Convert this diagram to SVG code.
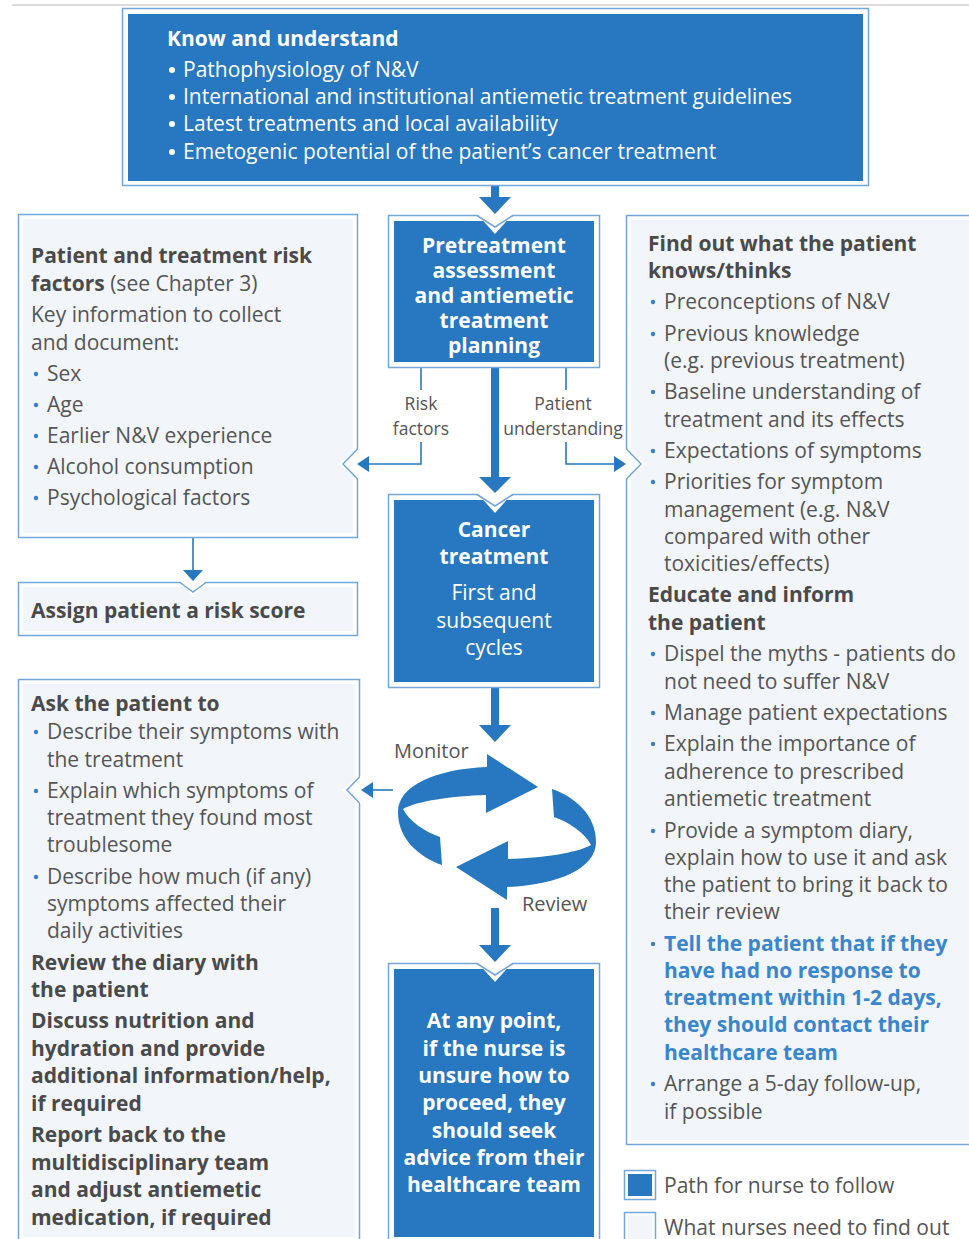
<svg xmlns="http://www.w3.org/2000/svg" width="969" height="1239" viewBox="0 0 969 1239">
  <style>
    .frame { fill: #ffffff; stroke: #74a6da; stroke-width: 1.5; }
    .dark { fill: #2777c1; }
    .light { fill: #f2f5fa; }
    .edge { fill: none; stroke: #74a6da; stroke-width: 1.5; }
    .gap { fill: #ffffff; }
    .line { fill: none; stroke: #2777c1; stroke-width: 1.6; }
    .shaft { fill: none; stroke: #2777c1; stroke-width: 8; }
    .head { fill: #2777c1; }
    text { font-family: "Open Sans", "Noto Sans", sans-serif; }
    .w { fill: #ffffff; font-size: 21px; }
    .wb { fill: #ffffff; font-size: 21px; font-weight: bold; }
    .h { fill: #4a4a4a; font-size: 21px; font-weight: bold; }
    .t { fill: #555555; font-size: 21px; }
    .lbl { fill: #555555; font-size: 17.5px; }
    .hl { fill: #3a86cc; font-size: 21px; font-weight: bold; }
    .dot { fill: #3a80c6; }
    .wdot { fill: #ffffff; }
  </style>

  <!-- page rule -->
  <line x1="12" y1="5" x2="969" y2="5" stroke="#dcdcdc" stroke-width="2"/>

  <!-- connectors -->
  <g id="connectors">
    <!-- know -> pretreatment -->
    <line class="shaft" x1="495" y1="186" x2="495" y2="198"/>
    <!-- pretreatment -> cancer treatment -->
    <line class="shaft" x1="495" y1="368" x2="495" y2="478"/>
    <!-- cancer treatment -> monitor -->
    <line class="shaft" x1="495" y1="688" x2="495" y2="726"/>
    <!-- review -> advice -->
    <line class="shaft" x1="495" y1="908" x2="495" y2="946"/>
    <!-- risk factors branch -->
    <polyline class="line" points="421,368 421,390"/>
    <polyline class="line" points="421,442 421,464 368,464"/>
    <!-- patient understanding branch -->
    <polyline class="line" points="566,368 566,390"/>
    <polyline class="line" points="566,442 566,464 615,464"/>
    <!-- risk factors -> risk score -->
    <line class="line" x1="193" y1="538" x2="193" y2="571"/>
    <!-- cycle -> ask the patient -->
    <line class="line" x1="393" y1="790" x2="371" y2="790"/>
  </g>

  <!-- top: knowledge -->
  <g id="know">
    <rect class="frame" x="122.5" y="8.5" width="746" height="177"/>
    <rect class="dark" x="128" y="14" width="735" height="167"/>
    <text class="wb" x="167" y="46">Know and understand</text>
    <circle class="wdot" cx="172" cy="70" r="3"/>
    <circle class="wdot" cx="172" cy="97" r="3"/>
    <circle class="wdot" cx="172" cy="124" r="3"/>
    <circle class="wdot" cx="172" cy="152" r="3"/>
    <text class="w" x="183" y="77">Pathophysiology of N&amp;V</text>
    <text class="w" x="183" y="104">International and institutional antiemetic treatment guidelines</text>
    <text class="w" x="183" y="131">Latest treatments and local availability</text>
    <text class="w" x="183" y="159">Emetogenic potential of the patient’s cancer treatment</text>
  </g>

  <!-- pretreatment assessment -->
  <g id="pretreatment">
    <rect class="frame" x="388.5" y="215.5" width="211" height="152"/>
    <rect class="dark" x="394" y="221" width="200" height="141"/>
    <polygon class="gap" points="477,214 513,214 495,234"/>
    <polyline class="edge" points="477,215.5 495,227 513,215.5"/>
    <polygon class="head" points="479,197 511,197 495,214"/>
    <g text-anchor="middle">
      <text class="wb" x="494" y="253">Pretreatment</text>
      <text class="wb" x="494" y="278">assessment</text>
      <text class="wb" x="494" y="303">and antiemetic</text>
      <text class="wb" x="494" y="328">treatment</text>
      <text class="wb" x="494" y="353">planning</text>
    </g>
  </g>

  <!-- branch labels -->
  <g id="branch-labels" text-anchor="middle">
    <text class="lbl" x="421" y="410">Risk</text>
    <text class="lbl" x="421" y="435">factors</text>
    <text class="lbl" x="563" y="410">Patient</text>
    <text class="lbl" x="563" y="435">understanding</text>
  </g>

  <!-- risk factors -->
  <g id="risk-factors">
    <rect class="frame" x="18.5" y="214.5" width="339" height="323"/>
    <rect class="light" x="23" y="219" width="330" height="314"/>
    <polygon class="gap" points="359,448 359,480 338,464"/>
    <polyline class="edge" points="357.5,449 343,464 357.5,479"/>
    <polygon class="head" points="369,456 369,472 357,464"/>
    <text x="31" y="263"><tspan class="h">Patient and treatment risk</tspan></text>
    <text x="31" y="291"><tspan class="h">factors</tspan><tspan class="t"> (see Chapter 3)</tspan></text>
    <text class="t" x="31" y="322">Key information to collect</text>
    <text class="t" x="31" y="350">and document:</text>
    <circle class="dot" cx="36" cy="374" r="2.2"/>
    <circle class="dot" cx="36" cy="405" r="2.2"/>
    <circle class="dot" cx="36" cy="436" r="2.2"/>
    <circle class="dot" cx="36" cy="467" r="2.2"/>
    <circle class="dot" cx="36" cy="498" r="2.2"/>
    <text class="t" x="47" y="381">Sex</text>
    <text class="t" x="47" y="412">Age</text>
    <text class="t" x="47" y="443">Earlier N&amp;V experience</text>
    <text class="t" x="47" y="474">Alcohol consumption</text>
    <text class="t" x="47" y="505">Psychological factors</text>
  </g>

  <!-- risk score -->
  <g id="risk-score">
    <rect class="frame" x="18.5" y="582.5" width="339" height="53"/>
    <rect class="light" x="23" y="587" width="330" height="44"/>
    <polygon class="gap" points="180,581 206,581 193,597"/>
    <polyline class="edge" points="180,582.5 193,592 206,582.5"/>
    <polygon class="head" points="183,570 203,570 193,581"/>
    <text class="h" x="31" y="618">Assign patient a risk score</text>
  </g>

  <!-- ask the patient -->
  <g id="ask-patient">
    <rect class="frame" x="18.5" y="679.5" width="341" height="580"/>
    <rect class="light" x="23" y="684" width="332" height="553"/>
    <polygon class="gap" points="361,776 361,804 341,790"/>
    <polyline class="edge" points="359.5,777 347,790 359.5,803"/>
    <polygon class="head" points="373,782 373,798 361,790"/>
    <text class="h" x="31" y="711">Ask the patient to</text>
    <circle class="dot" cx="36" cy="732" r="2.2"/>
    <circle class="dot" cx="36" cy="791" r="2.2"/>
    <circle class="dot" cx="36" cy="877" r="2.2"/>
    <text class="t" x="47" y="739">Describe their symptoms with</text>
    <text class="t" x="47" y="767">the treatment</text>
    <text class="t" x="47" y="798">Explain which symptoms of</text>
    <text class="t" x="47" y="825">treatment they found most</text>
    <text class="t" x="47" y="852">troublesome</text>
    <text class="t" x="47" y="884">Describe how much (if any)</text>
    <text class="t" x="47" y="911">symptoms affected their</text>
    <text class="t" x="47" y="938">daily activities</text>
    <text class="h" x="31" y="970">Review the diary with</text>
    <text class="h" x="31" y="997">the patient</text>
    <text class="h" x="31" y="1028">Discuss nutrition and</text>
    <text class="h" x="31" y="1056">hydration and provide</text>
    <text class="h" x="31" y="1083">additional information/help,</text>
    <text class="h" x="31" y="1111">if required</text>
    <text class="h" x="31" y="1142">Report back to the</text>
    <text class="h" x="31" y="1170">multidisciplinary team</text>
    <text class="h" x="31" y="1197">and adjust antiemetic</text>
    <text class="h" x="31" y="1225">medication, if required</text>
  </g>

  <!-- cancer treatment -->
  <g id="cancer-treatment">
    <rect class="frame" x="388.5" y="494.5" width="211" height="193"/>
    <rect class="dark" x="394" y="500" width="200" height="182"/>
    <polygon class="gap" points="477,493 513,493 495,513"/>
    <polyline class="edge" points="477,494.5 495,506 513,494.5"/>
    <polygon class="head" points="479,477 511,477 495,493"/>
    <g text-anchor="middle">
      <text class="wb" x="494" y="537">Cancer</text>
      <text class="wb" x="494" y="564">treatment</text>
      <text class="w" x="494" y="600">First and</text>
      <text class="w" x="494" y="628">subsequent</text>
      <text class="w" x="494" y="655">cycles</text>
    </g>
  </g>

  <!-- monitor / review cycle -->
  <g id="cycle">
    <polygon class="head" points="479,725 511,725 495,742"/>
    <g transform="translate(497,827)" class="head">
      <path d="M -55,38 C -78,30 -99,12 -99,-15 C -99,-42 -60,-58 -10,-60 L -10,-73 L 41,-40 L -11,-14 L -11,-32 C -45,-31 -80,-26 -94,-18 C -88,-6 -72,5 -57,10 Z"/>
      <path transform="rotate(180)" d="M -55,38 C -78,30 -99,12 -99,-15 C -99,-42 -60,-58 -10,-60 L -10,-73 L 41,-40 L -11,-14 L -11,-32 C -45,-31 -80,-26 -94,-18 C -88,-6 -72,5 -57,10 Z"/>
    </g>
    <text class="t" x="394" y="758" style="font-size:20px">Monitor</text>
    <text class="t" x="522" y="911" style="font-size:20px">Review</text>
  </g>

  <!-- seek advice -->
  <g id="seek-advice">
    <rect class="frame" x="388.5" y="963.5" width="211" height="290"/>
    <rect class="dark" x="394" y="969" width="200" height="268"/>
    <polygon class="gap" points="477,962 513,962 495,982"/>
    <polyline class="edge" points="477,963.5 495,975 513,963.5"/>
    <polygon class="head" points="479,945 511,945 495,962"/>
    <g text-anchor="middle">
      <text class="wb" x="494" y="1028">At any point,</text>
      <text class="wb" x="494" y="1056">if the nurse is</text>
      <text class="wb" x="494" y="1083">unsure how to</text>
      <text class="wb" x="494" y="1110">proceed, they</text>
      <text class="wb" x="494" y="1138">should seek</text>
      <text class="wb" x="494" y="1165">advice from their</text>
      <text class="wb" x="494" y="1192">healthcare team</text>
    </g>
  </g>

  <!-- patient understanding -->
  <g id="patient-understanding">
    <rect class="frame" x="626.5" y="215.5" width="345" height="929"/>
    <rect class="light" x="631" y="220" width="340" height="920"/>
    <polygon class="gap" points="625,448 625,480 646,464"/>
    <polyline class="edge" points="626.5,449 641,464 626.5,479"/>
    <polygon class="head" points="614,456 614,472 626,464"/>
    <text class="h" x="648" y="251">Find out what the patient</text>
    <text class="h" x="648" y="278">knows/thinks</text>
    <circle class="dot" cx="653" cy="302" r="2.2"/>
    <circle class="dot" cx="653" cy="334" r="2.2"/>
    <circle class="dot" cx="653" cy="392" r="2.2"/>
    <circle class="dot" cx="653" cy="451" r="2.2"/>
    <circle class="dot" cx="653" cy="482" r="2.2"/>
    <text class="t" x="664" y="309">Preconceptions of N&amp;V</text>
    <text class="t" x="664" y="341">Previous knowledge</text>
    <text class="t" x="664" y="368">(e.g. previous treatment)</text>
    <text class="t" x="664" y="399">Baseline understanding of</text>
    <text class="t" x="664" y="427">treatment and its effects</text>
    <text class="t" x="664" y="458">Expectations of symptoms</text>
    <text class="t" x="664" y="489">Priorities for symptom</text>
    <text class="t" x="664" y="517">management (e.g. N&amp;V</text>
    <text class="t" x="664" y="544">compared with other</text>
    <text class="t" x="664" y="571">toxicities/effects)</text>
    <text class="h" x="648" y="602">Educate and inform</text>
    <text class="h" x="648" y="630">the patient</text>
    <circle class="dot" cx="653" cy="654" r="2.2"/>
    <circle class="dot" cx="653" cy="713" r="2.2"/>
    <circle class="dot" cx="653" cy="744" r="2.2"/>
    <circle class="dot" cx="653" cy="831" r="2.2"/>
    <circle class="dot" cx="653" cy="944" r="2.2"/>
    <circle class="dot" cx="653" cy="1084" r="2.2"/>
    <text class="t" x="664" y="661">Dispel the myths - patients do</text>
    <text class="t" x="664" y="689">not need to suffer N&amp;V</text>
    <text class="t" x="664" y="720">Manage patient expectations</text>
    <text class="t" x="664" y="751">Explain the importance of</text>
    <text class="t" x="664" y="779">adherence to prescribed</text>
    <text class="t" x="664" y="806">antiemetic treatment</text>
    <text class="t" x="664" y="838">Provide a symptom diary,</text>
    <text class="t" x="664" y="865">explain how to use it and ask</text>
    <text class="t" x="664" y="892">the patient to bring it back to</text>
    <text class="t" x="664" y="919">their review</text>
    <text class="hl" x="664" y="951">Tell the patient that if they</text>
    <text class="hl" x="664" y="978">have had no response to</text>
    <text class="hl" x="664" y="1005">treatment within 1-2 days,</text>
    <text class="hl" x="664" y="1032">they should contact their</text>
    <text class="hl" x="664" y="1060">healthcare team</text>
    <text class="t" x="664" y="1091">Arrange a 5-day follow-up,</text>
    <text class="t" x="664" y="1119">if possible</text>
  </g>

  <!-- key -->
  <g id="legend">
    <rect class="frame" x="624.5" y="1170.5" width="31" height="29"/>
    <rect class="dark" x="628" y="1174" width="24" height="22"/>
    <text class="t" x="664" y="1193">Path for nurse to follow</text>
    <rect class="frame" x="624.5" y="1212.5" width="31" height="40"/>
    <rect class="light" x="628" y="1216" width="24" height="30"/>
    <text class="t" x="664" y="1235">What nurses need to find out</text>
  </g>
</svg>
